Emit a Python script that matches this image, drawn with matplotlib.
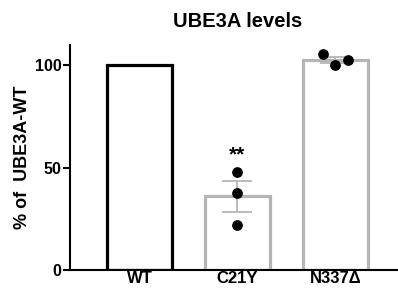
import matplotlib
matplotlib.use("Agg")
import matplotlib.pyplot as plt
import numpy as np

plt.rcParams['font.family'] = ['Liberation Sans', 'DejaVu Sans']

categories = ["WT", "C21Y", "N337Δ"]
means = [100.0, 36.0, 102.6]
sems = [0.0, 7.6, 1.6]
points_c21y = [48.0, 37.7, 22.0]
points_n337 = [105.4, 100.0, 102.4]
jitter_n337 = [-0.13, 0.0, 0.13]
edge_colors = ["black", "#b5b5b5", "#b5b5b5"]

fig = plt.figure(figsize=(3.98, 2.90), dpi=100)
ax = fig.add_axes([0.176, 0.069, 0.824, 0.776])
x = np.arange(len(categories))
ax.bar(x, means, width=0.66, facecolor="white", edgecolor=edge_colors, linewidth=2.3, zorder=2)
for i in [1, 2]:
    ax.errorbar(x[i], means[i], yerr=sems[i], color="#b5b5b5", capsize=11, capthick=1.3, elinewidth=1.3, zorder=3)
ax.scatter([x[1]] * 3, points_c21y, s=45, color="black", zorder=4)
ax.scatter(x[2] + np.array(jitter_n337), points_n337, s=45, color="black", zorder=4)
ax.text(x[1], 51.5, "**", ha="center", va="bottom", fontsize=15, fontweight="bold")

ax.set_xlim(-0.71, 2.64)
ax.set_ylim(0, 110)
ax.set_yticks([0, 50, 100])
ax.set_xticks(x)
ax.set_xticklabels(categories, fontsize=12, fontweight="bold")
ax.tick_params(axis="x", length=0, pad=1)
ax.tick_params(axis="y", length=5, width=1.5, labelsize=11.5, pad=1)
for lab in ax.get_yticklabels():
    lab.set_fontweight("bold")
ax.spines["top"].set_visible(False)
ax.spines["right"].set_visible(False)
ax.spines["left"].set_linewidth(1.5)
ax.spines["bottom"].set_linewidth(1.5)
ax.set_ylabel("% of  UBE3A-WT", fontsize=13, fontweight="bold", labelpad=3)
fig.text(0.598, 0.925, "UBE3A levels", ha="center", va="center", fontsize=14.5, fontweight="bold")
fig.savefig("out.png", dpi=100)
